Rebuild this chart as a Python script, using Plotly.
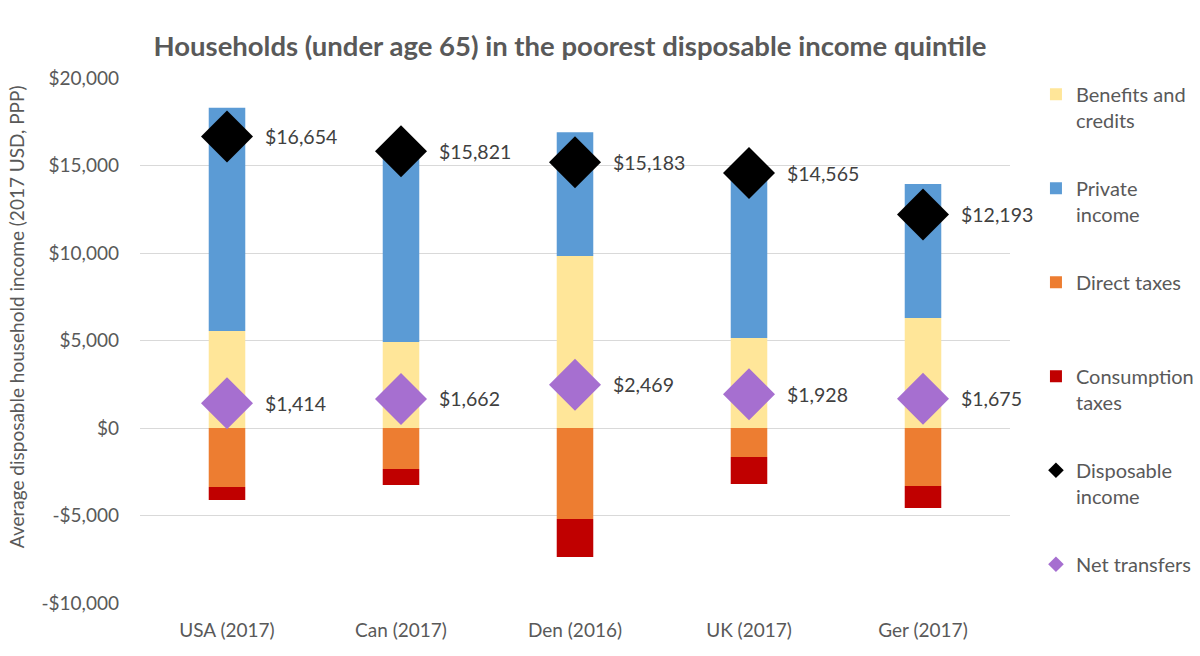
import plotly.graph_objects as go

categories = ["USA (2017)", "Can (2017)", "Den (2016)", "UK (2017)", "Ger (2017)"]
benefits = [5540, 4910, 9830, 5140, 6290]
private_income = [12760, 10500, 7070, 9200, 7650]
direct_taxes = [-3370, -2340, -5200, -1660, -3310]
consumption_taxes = [-740, -910, -2170, -1540, -1260]
disposable = [16654, 15821, 15183, 14565, 12193]
net_transfers = [1414, 1662, 2469, 1928, 1675]
y_ticks = [-10000, -5000, 0, 5000, 10000, 15000, 20000]
y_ticktext = ["-$10,000", "-$5,000", "$0", "$5,000", "$10,000", "$15,000", "$20,000"]

FONT = "Lato"
GREY = "#595959"

fig = go.Figure()
bar_specs = [
    ("Benefits and<br>credits", benefits, "#FFE699"),
    ("Private<br>income", private_income, "#5B9BD5"),
    ("Direct taxes<br> ", direct_taxes, "#ED7D31"),
    ("Consumption<br>taxes", consumption_taxes, "#C00000"),
]
for name, vals, col in bar_specs:
    fig.add_trace(go.Bar(x=categories, y=vals, name=name, marker_color=col,
                         marker_line_width=0, legendgroup=name))

fig.add_trace(go.Scatter(x=categories, y=disposable, mode="markers",
                         name="Disposable<br>income", legendgroup="disp",
                         marker=dict(symbol="diamond", size=40, color="black")))
fig.add_trace(go.Scatter(x=categories, y=net_transfers, mode="markers",
                         name="Net transfers<br> ", legendgroup="net",
                         marker=dict(symbol="diamond", size=40, color="#A66FD0")))

for vals in (disposable, net_transfers):
    for c, v in zip(categories, vals):
        fig.add_annotation(x=c, y=v, text=f"${v:,}", showarrow=False,
                           xanchor="left", yanchor="middle", xshift=36,
                           font=dict(family=FONT, size=19.5, color="#404040"))

fig.add_annotation(xref="paper", yref="paper", x=-0.141, y=0.545,
                   text="Average disposable household income (2017 USD, PPP)",
                   textangle=-90, showarrow=False, xanchor="center", yanchor="middle",
                   font=dict(family=FONT, size=19, color=GREY))

fig.update_layout(
    width=1200, height=656,
    barmode="relative", bargap=0.79,
    plot_bgcolor="white", paper_bgcolor="white",
    margin=dict(l=140, r=190, t=78, b=53, autoexpand=False),
    title=dict(text="<b>Households (under age 65) in the poorest disposable income quintile</b>",
               x=0.475, xanchor="center", y=0.93, yanchor="middle",
               font=dict(family=FONT, size=27.5, color=GREY)),
    font=dict(family=FONT, size=19, color=GREY),
    legend=dict(xref="container", yref="container", x=0.8633, y=0.886,
                xanchor="left", yanchor="top",
                font=dict(family=FONT, size=20, color=GREY),
                tracegroupgap=39, valign="top", itemsizing="constant",
                bgcolor="rgba(0,0,0,0)", maxheight=1.0),
    xaxis=dict(range=[-0.5, len(categories) - 0.5], showgrid=False, showline=False,
               ticks="", ticklabelstandoff=14,
               tickfont=dict(family=FONT, size=19, color=GREY)),
    yaxis=dict(range=[-10000, 20000], tickvals=y_ticks, ticktext=y_ticktext,
               showgrid=True, gridcolor="#D9D9D9", gridwidth=1.3,
               zeroline=True, zerolinecolor="#D9D9D9", zerolinewidth=1.3,
               tickfont=dict(family=FONT, size=19, color=GREY),
               ticks="", ticklabelstandoff=20),
)

fig.write_html("out.html")
